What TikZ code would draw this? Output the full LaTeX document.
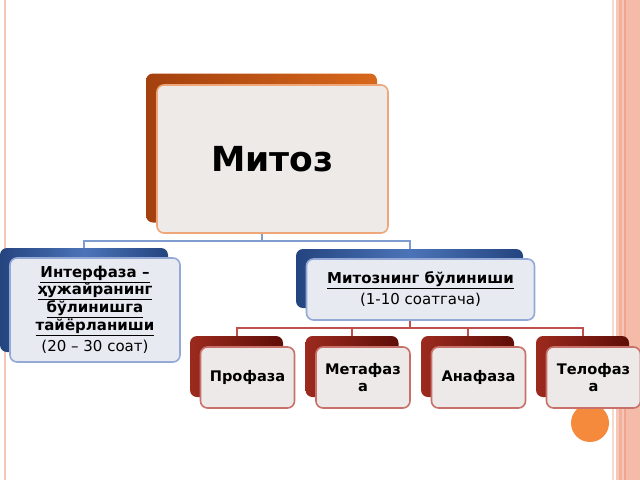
\documentclass[tikz,border=0pt]{standalone}
\usepackage{fontspec}
\setmainfont{DejaVu Sans}
\usepackage{xcolor}
\usetikzlibrary{positioning}

\definecolor{orangedark}{HTML}{A3400E}
\definecolor{orangelight}{HTML}{D8681C}
\definecolor{orangeedge}{HTML}{EFA77A}
\definecolor{warmfill}{HTML}{EEEAE8}
\definecolor{bluedark}{HTML}{24447F}
\definecolor{bluemid}{HTML}{4B74B8}
\definecolor{blueedge}{HTML}{94A9D6}
\definecolor{bluefill}{HTML}{E7EAF1}
\definecolor{bluelinecol}{HTML}{7F9CD0}
\definecolor{reddark}{HTML}{5E0E08}
\definecolor{redmid}{HTML}{9C2A1E}
\definecolor{rededge}{HTML}{C8706A}
\definecolor{redfill}{HTML}{EEE9E9}
\definecolor{redlinecol}{HTML}{C0504D}
\definecolor{circorange}{HTML}{F58A3C}
\definecolor{stripeA}{HTML}{F9D8CC}
\definecolor{stripeB}{HTML}{F6C6B6}
\definecolor{stripeC}{HTML}{F2B09A}
\definecolor{stripeD}{HTML}{EFA58E}
\definecolor{stripeE}{HTML}{F4BBA8}

\newcommand{\ulword}[1]{\underline{#1\vphantom{р}}}

\begin{document}
\begin{tikzpicture}[x=1pt, y=-1pt,
                    backbox/.style={rounded corners=7pt, inner sep=0pt},
                    frontbox/.style={rounded corners=7pt, inner sep=0pt, line width=1.6pt, align=center},
                    mitozback/.style={backbox, left color=orangedark, right color=orangelight},
                    mitozfront/.style={frontbox, draw=orangeedge, fill=warmfill},
                    blueback/.style={backbox, left color=bluedark, right color=bluedark, middle color=bluemid},
                    bluefront/.style={frontbox, draw=blueedge, fill=bluefill},
                    redback/.style={backbox, left color=redmid, right color=reddark,
                                    minimum width=93pt, minimum height=61pt},
                    redfront/.style={frontbox, draw=rededge, fill=redfill,
                                     minimum width=94pt, minimum height=61pt,
                                     font=\fontsize{14.6}{17}\selectfont\bfseries},
                    bluelink/.style={line width=2pt, bluelinecol},
                    redlink/.style={line width=2pt, redlinecol},
                   ]

\useasboundingbox (0,0) rectangle (640,480);
\fill[white] (0,0) rectangle (640,480);

% slide border
\fill[stripeB] (4,0) rectangle (6,480);
\fill[stripeA] (612,0) rectangle (613.5,480);
\fill[stripeB] (616,0) rectangle (619,480);
\fill[stripeC] (619,0) rectangle (622,480);
\fill[stripeB] (622,0) rectangle (624,480);
\fill[stripeD] (624,0) rectangle (626,480);
\fill[stripeE] (626,0) rectangle (640,480);

\fill[circorange] (590,423) circle (19);

% top
\node[mitozback, minimum width=231pt, minimum height=149pt] (mitozB) at (261.5,148) {};
\node[mitozfront, minimum width=231pt, minimum height=148pt,
      font=\fontsize{34.5}{40}\selectfont\bfseries] (mitoz) at ([shift={(11,11)}]mitozB.center) {Митоз};

% second level
\node[blueback, minimum width=168pt, minimum height=104pt] (interB) at (84,300) {};
\node[bluefront, minimum width=170pt, minimum height=104pt,
      font=\fontsize{15}{16.6}\selectfont] (inter) at ([shift={(11,10)}]interB.center)
     {\textbf{\ulword{Интерфаза –}}\\ \textbf{\ulword{ҳужайранинг}}\\ \textbf{\ulword{бўлинишга}}\\
      \textbf{\ulword{тайёрланиши}}\\[5pt] (20 – 30 соат)};

\node[blueback, minimum width=227pt, minimum height=59pt] (mitdivB) at (409.5,278.5) {};
\node[bluefront, minimum width=228pt, minimum height=61pt,
      font=\fontsize{15}{21}\selectfont] (mitdiv) at ([shift={(11,11)}]mitdivB.center)
     {\textbf{\ulword{Митознинг бўлиниши}}\\ (1-10 соатгача)};

% phases
\node[redback] (profB) at (236.5,366.5) {};
\node[redfront] (prof) at ([shift={(11,11)}]profB.center) {Профаза};

\node[redback] (metaB) at (352,366.5) {};
\node[redfront] (meta) at ([shift={(11,11)}]metaB.center) {Метафаз\\а};

\node[redback] (anaB) at (467.5,366.5) {};
\node[redfront] (ana) at ([shift={(11,11)}]anaB.center) {Анафаза};

\node[redback] (teloB) at (582.5,366.5) {};
\node[redfront] (telo) at ([shift={(11,11)}]teloB.center) {Телофаз\\а};

% links
\draw[bluelink] (mitoz.south -| mitozB.center) -- ++(0,7) -| (interB.north);
\draw[bluelink] (mitoz.south -| mitozB.center) -- ++(0,7) -| (mitdivB.north);

\draw[redlink] (mitdiv.south -| mitdivB.center) -- ++(0,7) -| (profB.north);
\draw[redlink] (mitdiv.south -| mitdivB.center) -- ++(0,7) -| (metaB.north);
\draw[redlink] (mitdiv.south -| mitdivB.center) -- ++(0,7) -| (anaB.north);
\draw[redlink] (mitdiv.south -| mitdivB.center) -- ++(0,7) -| (teloB.north);

\end{tikzpicture}
\end{document}
